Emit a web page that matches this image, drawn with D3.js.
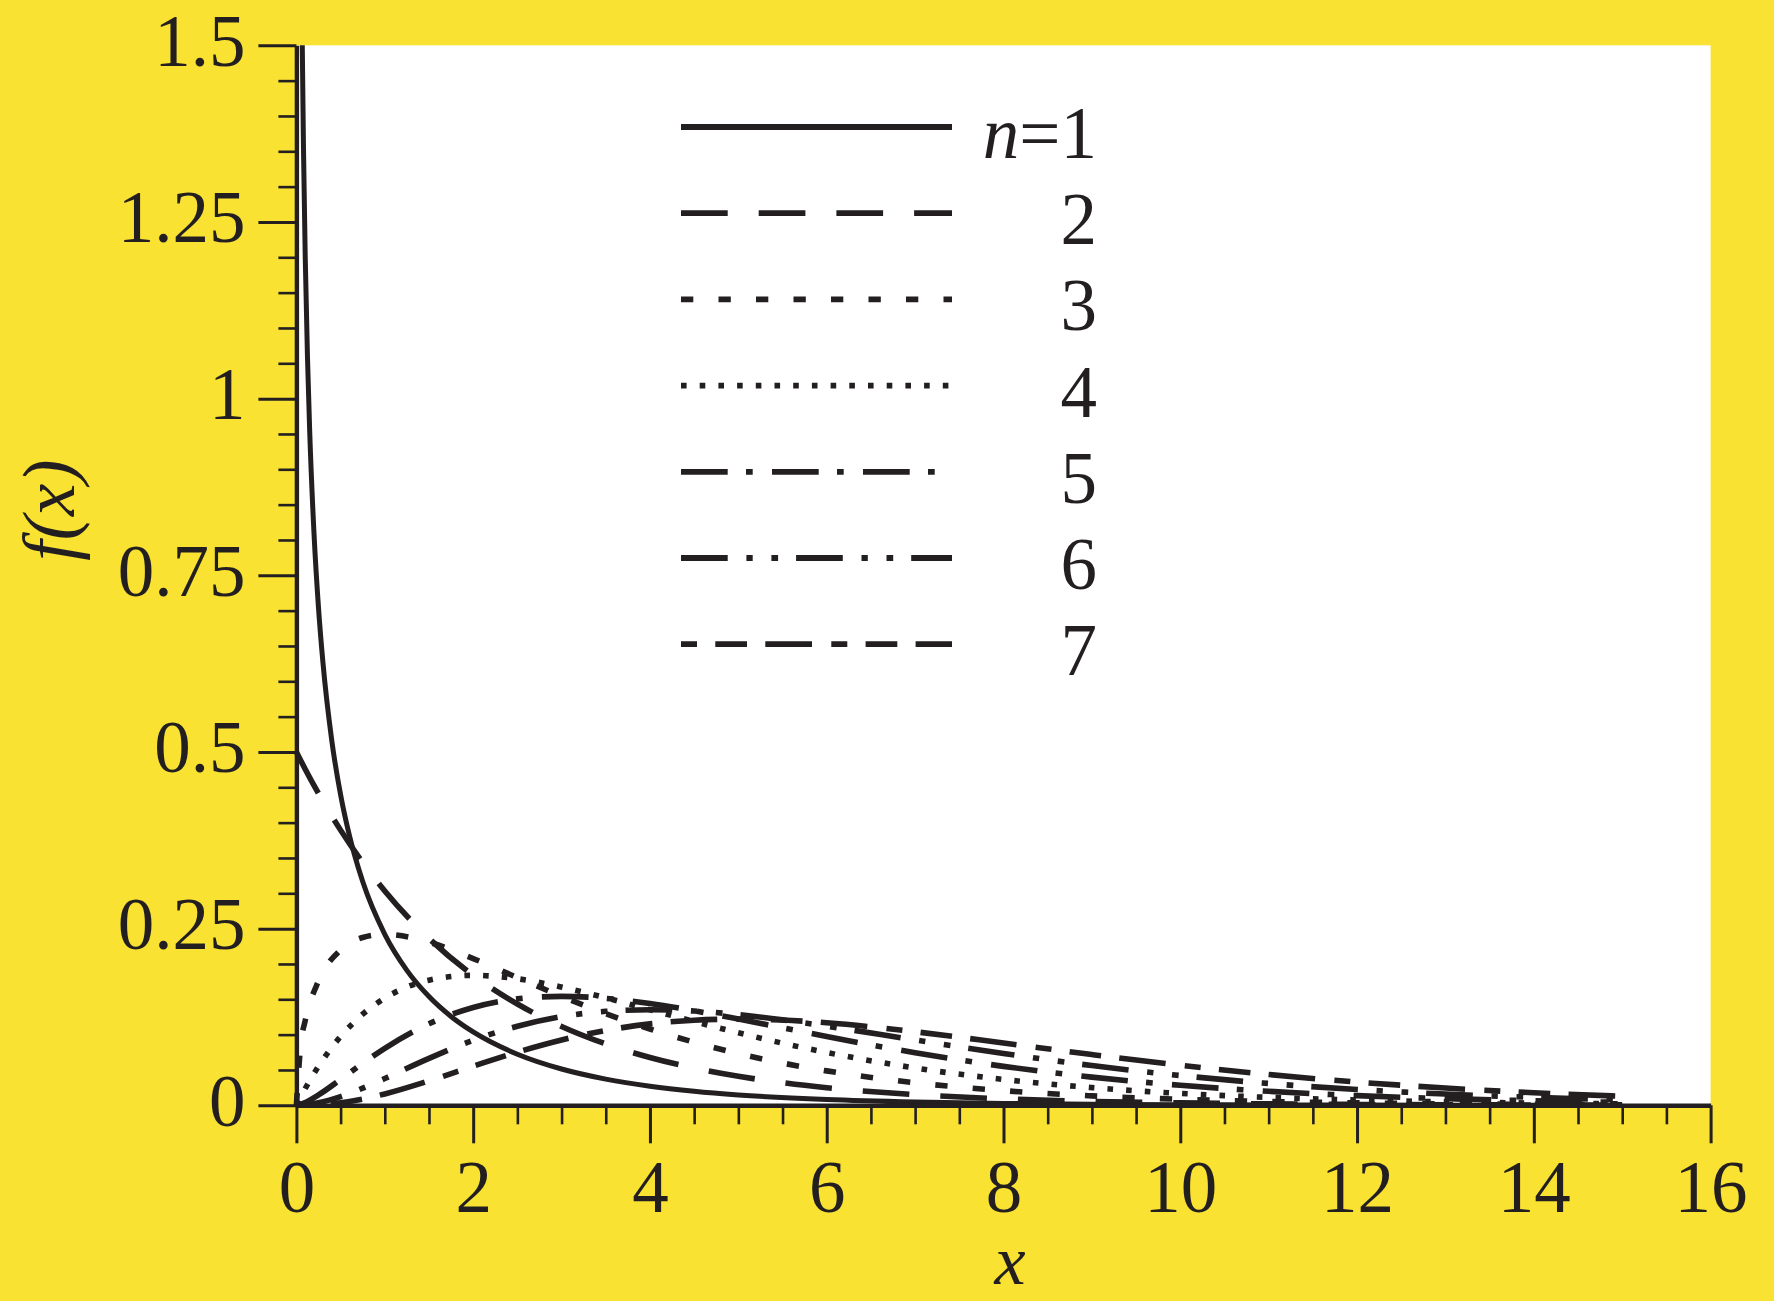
<!DOCTYPE html>
<html>
<head>
<meta charset="utf-8">
<script src="https://cdn.jsdelivr.net/npm/d3@7/dist/d3.min.js"></script>
<style>
  html, body { margin: 0; padding: 0; background: #F9E231; }
  svg { display: block; }
  text { font-family: "Liberation Serif", "Times New Roman", serif; fill: #231F20; }
</style>
</head>
<body>
<svg id="chart" width="1774" height="1301"></svg>
<script>
// ---------- data ----------
const seriesNames = ["1", "2", "3", "4", "5", "6", "7"];

const xN1 = [0.0665, 0.08, 0.1, 0.125, 0.15, 0.2, 0.25, 0.3, 0.4, 0.5, 0.6, 0.75, 1, 1.25, 1.5, 1.75, 2, 2.5, 3, 3.5, 4, 4.5, 5, 6, 7, 8, 9, 10, 11, 12, 13, 14, 15];
const yN1 = [1.5, 1.3552, 1.2, 1.06, 0.9556, 0.8072, 0.7041, 0.6269, 0.5164, 0.4394, 0.3815, 0.3166, 0.242, 0.191, 0.1539, 0.1257, 0.1038, 0.0723, 0.0514, 0.0371, 0.027, 0.0198, 0.0146, 0.0081, 0.00455, 0.00258, 0.00148, 0.00085, 0.00049, 0.000285, 0.000166, 0.000097, 0.000057];

const xGrid = [0, 0.05, 0.1, 0.25, 0.5, 0.75, 1, 1.5, 2, 2.5, 3, 3.5, 4, 4.5, 5, 5.5, 6, 7, 8, 9, 10, 11, 12, 13, 14, 15];
const yN2 = [0.5, 0.4877, 0.4756, 0.4412, 0.3894, 0.3436, 0.3033, 0.2362, 0.1839, 0.1433, 0.1116, 0.0869, 0.0677, 0.0527, 0.041, 0.032, 0.0249, 0.0151, 0.00916, 0.00555, 0.00337, 0.00204, 0.00124, 0.00075, 0.00046, 0.00028];
const yN3 = [0, 0.087, 0.12, 0.176, 0.2197, 0.2375, 0.242, 0.2308, 0.2076, 0.1807, 0.1542, 0.1297, 0.108, 0.0892, 0.0732, 0.0598, 0.0487, 0.0319, 0.0207, 0.0133, 0.0085, 0.0054, 0.00343, 0.00216, 0.00136, 0.00085];
const yN4 = [0, 0.0122, 0.0238, 0.0552, 0.0974, 0.1289, 0.1516, 0.1771, 0.1839, 0.1791, 0.1673, 0.1521, 0.1353, 0.1186, 0.1026, 0.0879, 0.0747, 0.0528, 0.0366, 0.025, 0.0168, 0.0112, 0.0074, 0.0049, 0.0032, 0.0021];
const yN5 = [0, 0.00145, 0.004, 0.0147, 0.0366, 0.0594, 0.0807, 0.1154, 0.1384, 0.1506, 0.1542, 0.1513, 0.144, 0.1338, 0.122, 0.1097, 0.0973, 0.0744, 0.0551, 0.0399, 0.0283, 0.0198, 0.0137, 0.0094, 0.0064, 0.0043];
const yN6 = [0, 0.00015, 0.00059, 0.00345, 0.0122, 0.0242, 0.0379, 0.0664, 0.092, 0.1119, 0.1255, 0.133, 0.1353, 0.1334, 0.1283, 0.1209, 0.112, 0.0925, 0.0733, 0.0562, 0.0421, 0.0309, 0.0223, 0.0159, 0.0112, 0.0078];
const yN7 = [0, 0.00001, 0.00008, 0.00073, 0.00366, 0.0089, 0.0161, 0.0346, 0.0553, 0.0753, 0.0925, 0.1059, 0.1152, 0.1204, 0.122, 0.1206, 0.1168, 0.1041, 0.0882, 0.0718, 0.0567, 0.0436, 0.0329, 0.0244, 0.0178, 0.0128];

const xTicks = [0, 2, 4, 6, 8, 10, 12, 14, 16];
const yTicks = [0, 0.25, 0.5, 0.75, 1, 1.25, 1.5];
const yTickLabels = ["0", "0.25", "0.5", "0.75", "1", "1.25", "1.5"];

// ---------- styles ----------
const dashes = [null, "46.7 31", "12.3 25.2", "5.6 13.1",
  "46.7 18.3 6.7 19.3", "46.7 18.7 6.3 18.7 6.7 18", "16 18.3 31.7 18.3 46.7 19.3"];
const ink = "#231F20";

// ---------- layout ----------
const svg = d3.select("#chart");
const mLeft = 296.4, mRight = 1710.6, mTop = 45.3, mBottom = 1105.3;

const x = d3.scaleLinear().domain([0, 16]).range([mLeft, mRight]);
const y = d3.scaleLinear().domain([0, 1.5]).range([mBottom, mTop]);

svg.append("rect").attr("x", 0).attr("y", 0).attr("width", 1774).attr("height", 1301).attr("fill", "#F9E231");
svg.append("rect").attr("x", mLeft).attr("y", mTop).attr("width", mRight - mLeft).attr("height", mBottom - mTop).attr("fill", "#FFFFFF");

// curves
const series = [
  xN1.map((v, i) => [v, yN1[i]]),
  xGrid.map((v, i) => [v, yN2[i]]),
  xGrid.map((v, i) => [v, yN3[i]]),
  xGrid.map((v, i) => [v, yN4[i]]),
  xGrid.map((v, i) => [v, yN5[i]]),
  xGrid.map((v, i) => [v, yN6[i]]),
  xGrid.map((v, i) => [v, yN7[i]])
];
const line = d3.line().x(d => x(d[0])).y(d => y(d[1])).curve(d3.curveMonotoneX);

svg.append("g").selectAll("path").data(series).join("path")
  .attr("d", line)
  .attr("fill", "none")
  .attr("stroke", ink)
  .attr("stroke-width", (d, i) => i === 0 ? 5 : 5.6)
  .attr("stroke-linecap", "butt")
  .attr("stroke-dasharray", (d, i) => dashes[i]);

// minor ticks
const xMinor = d3.range(0, 16.01, 0.5).filter(v => v % 2 !== 0);
const yMinor = d3.range(0, 1.501, 0.05).map(v => +v.toFixed(2)).filter(v => Math.round(v * 100) % 25 !== 0);

svg.append("g").attr("transform", `translate(0,${mBottom})`)
  .call(d3.axisBottom(x).tickValues(xMinor).tickSize(19).tickSizeOuter(0).tickFormat(""))
  .call(g => g.select(".domain").remove())
  .call(g => g.selectAll("line").attr("stroke", ink).attr("stroke-width", 2.6));
svg.append("g").attr("transform", `translate(${mLeft},0)`)
  .call(d3.axisLeft(y).tickValues(yMinor).tickSize(18).tickSizeOuter(0).tickFormat(""))
  .call(g => g.select(".domain").remove())
  .call(g => g.selectAll("line").attr("stroke", ink).attr("stroke-width", 2.6));

// major axes
const xAxis = svg.append("g").attr("transform", `translate(0,${mBottom})`)
  .call(d3.axisBottom(x).tickValues(xTicks).tickSize(38).tickSizeOuter(0).tickPadding(17).tickFormat(d3.format("d")));
const yAxis = svg.append("g").attr("transform", `translate(${mLeft},0)`)
  .call(d3.axisLeft(y).tickValues(yTicks).tickSize(38).tickSizeOuter(0).tickPadding(13)
    .tickFormat((d, i) => yTickLabels[i]));

[xAxis, yAxis].forEach(g => {
  g.select(".domain").attr("stroke", ink).attr("stroke-width", 4.4);
  g.selectAll(".tick line").attr("stroke", ink).attr("stroke-width", 3);
  g.selectAll(".tick text").attr("font-size", 73).attr("font-family", "Liberation Serif, serif").attr("fill", ink);
});
yAxis.selectAll(".tick text").attr("dy", "0.27em");

// axis titles
svg.append("text").attr("x", 1010).attr("y", 1284).attr("text-anchor", "middle")
  .attr("font-size", 70).attr("font-style", "italic").text("x");
svg.append("text").attr("transform", "translate(74,510) rotate(-90)").attr("text-anchor", "middle")
  .attr("font-size", 73).attr("font-style", "italic").text("f(x)");

// legend
const lgX0 = 681, lgX1 = 952, lgY0 = 127, lgStep = 86.2, lgTextX = 1097;
const lg = svg.append("g");
seriesNames.forEach((name, i) => {
  const yy = lgY0 + i * lgStep;
  lg.append("line").attr("x1", lgX0).attr("x2", lgX1).attr("y1", yy).attr("y2", yy)
    .attr("stroke", ink).attr("stroke-width", 5.8).attr("stroke-dasharray", dashes[i]);
  const t = lg.append("text").attr("x", lgTextX).attr("y", yy + 31).attr("text-anchor", "end").attr("font-size", 73);
  if (i === 0) {
    t.append("tspan").attr("font-style", "italic").text("n");
    t.append("tspan").text("=" + name);
  } else {
    t.text(name);
  }
});
</script>
</body>
</html>
